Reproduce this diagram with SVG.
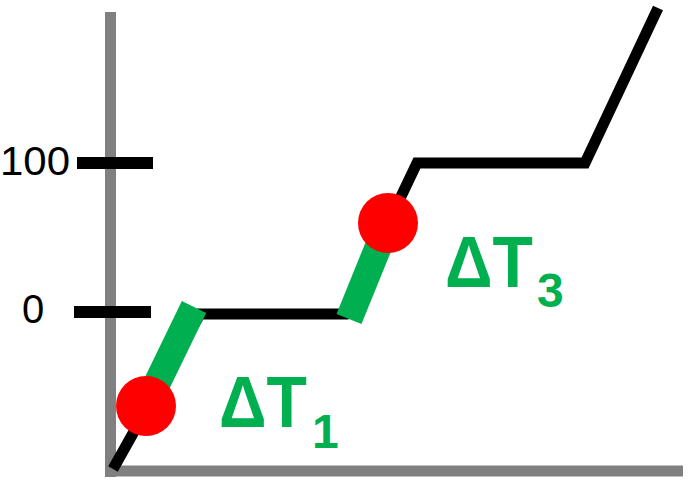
<svg xmlns="http://www.w3.org/2000/svg" width="692" height="483" viewBox="0 0 692 483">
<style>
.axis{stroke:#808080;stroke-width:11;fill:none}
.tick{stroke:#000;stroke-width:12;fill:none}
.curve{stroke:#000;stroke-width:11;fill:none;stroke-linejoin:miter}
.band{stroke:#00B050;stroke-width:27;fill:none}
.pt{fill:#FF0000}
.num{font-family:"Liberation Sans",Arial,sans-serif;font-size:40px;fill:#000}
.lbl{font-family:"Liberation Sans",Arial,sans-serif;font-weight:bold;fill:#00B050}
</style>
<g id="axes">
<line class="axis" x1="110.5" y1="12" x2="110.5" y2="477"/>
<line class="axis" x1="105" y1="471" x2="683" y2="471"/>
<line class="tick" x1="77" y1="163" x2="153" y2="163"/>
<line class="tick" x1="74" y1="312" x2="151" y2="312"/>
<text class="num" x="0" y="175" textLength="70" lengthAdjust="spacingAndGlyphs">100</text>
<text class="num" x="22" y="323">0</text>
</g>
<g id="connectors">
<path class="curve" d="M113,469 L200,314 L345,314 L417,163 L585,163 L658,8"/>
</g>
<g id="dT1">
<line class="band" x1="146" y1="406" x2="194" y2="307"/>
<circle class="pt" cx="146" cy="406" r="30"/>
<text class="lbl" x="219" y="427" font-size="72" textLength="88" lengthAdjust="spacingAndGlyphs">ΔT</text>
<text class="lbl" x="312" y="448" font-size="48">1</text>
</g>
<g id="dT3">
<line class="band" x1="349" y1="319" x2="388" y2="223"/>
<circle class="pt" cx="388" cy="223" r="30"/>
<text class="lbl" x="445" y="287" font-size="72" textLength="88" lengthAdjust="spacingAndGlyphs">ΔT</text>
<text class="lbl" x="537" y="307" font-size="48">3</text>
</g>
</svg>
